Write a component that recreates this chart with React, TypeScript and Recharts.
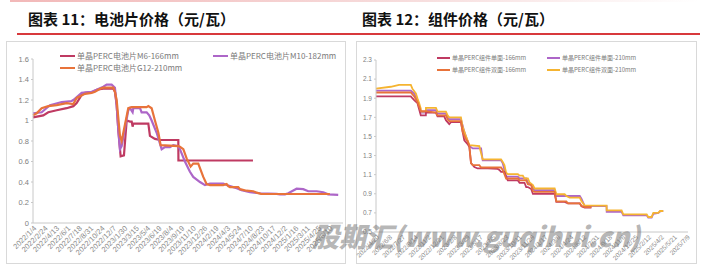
import { Line, LineChart, XAxis, YAxis } from "recharts";

type Pt = [number, number];

// 图表11 电池片价格 — x is position in units of axis label slots
const cellTicks = [
  "2022/1/4", "2022/2/24", "2022/4/13", "2022/6/1", "2022/7/18", "2022/8/31",
  "2022/10/24", "2022/12/7", "2023/1/30", "2023/3/15", "2023/5/4", "2023/6/19",
  "2023/8/4", "2023/9/19", "2023/11/10", "2023/12/26", "2024/2/19", "2024/4/3",
  "2024/5/24", "2024/7/10", "2024/8/23", "2024/10/17", "2024/12/2", "2025/1/16",
  "2025/3/11", "2025/4/25", "2025/6/10",
];

const m6Cell: Pt[] = [
  [0, 1.03], [0.9, 1.05], [1.34, 1.08], [2.08, 1.1], [2.95, 1.12], [3.54, 1.14],
  [3.83, 1.17], [4.27, 1.25], [4.56, 1.27], [5.29, 1.28], [5.58, 1.3], [6.17, 1.31],
  [7.05, 1.31], [7.19, 1.28], [7.34, 1.15], [7.49, 0.9], [7.69, 0.65], [7.98, 0.66],
  [8.22, 1.0], [8.51, 0.99], [8.66, 0.99], [8.74, 0.94], [8.8, 0.97], [10.12, 0.97],
  [10.26, 0.85], [10.7, 0.82], [11.14, 0.81], [12.75, 0.81], [12.76, 0.61], [19.3, 0.61],
];

const m10Cell: Pt[] = [
  [0, 1.07], [0.76, 1.08], [1.49, 1.15], [2.52, 1.18], [3.39, 1.19], [3.54, 1.2],
  [4.27, 1.27], [5.15, 1.28], [5.58, 1.3], [6.17, 1.33], [6.46, 1.35], [6.9, 1.35],
  [7.19, 1.32], [7.34, 1.15], [7.49, 0.9], [7.63, 0.72], [7.78, 0.75], [8.36, 1.1],
  [8.51, 1.12], [8.74, 1.08], [8.8, 1.12], [9.39, 1.12], [9.53, 1.08], [9.97, 1.08],
  [10.2, 1.05], [10.41, 1.0], [10.85, 0.88], [11.29, 0.72], [11.58, 0.74], [12.02, 0.74],
  [12.31, 0.76], [12.75, 0.75], [12.89, 0.72], [13.33, 0.6], [13.77, 0.5], [14.06, 0.45],
  [14.65, 0.4], [15.09, 0.37], [15.53, 0.385], [16.69, 0.385], [16.99, 0.37], [17.57, 0.35],
  [17.87, 0.34], [18.3, 0.32], [19.04, 0.3], [19.91, 0.29], [21.38, 0.285], [21.67, 0.28],
  [22.11, 0.28], [22.4, 0.29], [23.13, 0.335], [23.71, 0.33], [24.15, 0.31], [24.89, 0.31],
  [25.47, 0.3], [25.9, 0.28], [26.78, 0.275],
];

const g12Cell: Pt[] = [
  [0, 1.05], [0.32, 1.07], [0.76, 1.12], [1.34, 1.14], [2.08, 1.15], [2.95, 1.17],
  [3.54, 1.16], [3.83, 1.22], [4.56, 1.26], [5.15, 1.27], [5.44, 1.28], [5.88, 1.31],
  [6.17, 1.32], [7.05, 1.32], [7.19, 1.28], [7.34, 1.2], [7.63, 0.85], [7.78, 0.8],
  [8.36, 1.12], [8.66, 1.13], [9.97, 1.13], [10.12, 1.14], [10.41, 1.12], [10.7, 1.0],
  [11.0, 0.88], [11.2, 0.76], [12.75, 0.75], [12.89, 0.745], [13.19, 0.72], [13.48, 0.63],
  [13.83, 0.55], [14.06, 0.58], [14.5, 0.58], [14.94, 0.45], [15.23, 0.38], [15.53, 0.37],
  [16.69, 0.37], [16.99, 0.38], [17.13, 0.36], [17.28, 0.35], [18.01, 0.35], [18.16, 0.33],
  [18.74, 0.315], [19.33, 0.31], [19.62, 0.296], [20, 0.285], [26.05, 0.283],
];

// 图表12 组件价格
const moduleTicks = [
  "2022/4/20", "2022/6/8", "2022/7/27", "2022/9/14", "2022/11/2", "2022/12/21",
  "2023/2/8", "2023/3/29", "2023/5/17", "2023/7/5", "2023/8/23", "2023/10/11",
  "2023/11/29", "2024/1/17", "2024/3/6", "2024/4/24", "2024/6/12", "2024/7/31",
  "2024/9/18", "2024/11/6", "2024/12/25", "2025/2/12", "2025/4/2", "2025/5/21",
  "2025/7/9",
];

const mono166: Pt[] = [
  [0, 1.92], [2.69, 1.92], [2.81, 1.9], [2.95, 1.88], [3.2, 1.85], [3.46, 1.72],
  [3.85, 1.72], [3.86, 1.75], [4.63, 1.75], [4.75, 1.71], [5.27, 1.71], [5.4, 1.67],
  [5.66, 1.63], [5.79, 1.65], [6.56, 1.65], [6.69, 1.55], [6.82, 1.46], [7.08, 1.42],
  [7.21, 1.39], [7.34, 1.22], [7.6, 1.18], [7.85, 1.165], [8.63, 1.165], [9.4, 1.16],
  [9.53, 1.15], [9.66, 1.13], [9.92, 1.13], [10.05, 1.08], [10.18, 1.04], [10.96, 1.04],
  [11.09, 1.015], [11.47, 1.015], [11.6, 0.97], [11.73, 0.97], [11.99, 0.95], [12.12, 0.9],
  [13.8, 0.9], [13.93, 0.815], [14.57, 0.815], [14.83, 0.8], [15.74, 0.8], [15.87, 0.77],
  [16.12, 0.755], [16.64, 0.755],
];

const mono210: Pt[] = [
  [0, 1.98], [2.69, 1.98], [2.95, 1.95], [3.2, 1.88], [3.46, 1.75], [3.85, 1.75],
  [3.86, 1.776], [4.63, 1.776], [4.75, 1.74], [5.4, 1.74], [5.53, 1.7], [5.66, 1.68],
  [6.56, 1.68], [6.82, 1.55], [7.08, 1.45], [7.21, 1.4], [7.47, 1.375], [8.12, 1.375],
  [8.24, 1.25], [9.66, 1.25], [9.79, 1.22], [10.05, 1.08], [10.96, 1.08], [11.09, 1.06],
  [11.6, 1.06], [11.73, 1.02], [11.99, 0.99], [12.25, 0.937], [13.8, 0.937], [13.93, 0.877],
  [15.74, 0.877], [15.87, 0.85], [16.12, 0.77], [17.81, 0.77], [17.82, 0.71], [18.97, 0.71],
  [19.1, 0.675], [20.91, 0.675], [21.03, 0.65], [21.29, 0.65], [21.42, 0.69], [21.81, 0.7],
  [21.94, 0.715], [22.19, 0.72],
];

const bifacial166: Pt[] = [
  [0, 1.96], [2.69, 1.96], [2.95, 1.92], [3.2, 1.86], [3.46, 1.765], [3.85, 1.765],
  [4.63, 1.75], [4.75, 1.72], [5.4, 1.72], [5.53, 1.68], [5.66, 1.66], [6.56, 1.66],
  [6.69, 1.55], [6.95, 1.47], [7.08, 1.45], [7.21, 1.4], [7.34, 1.22], [7.47, 1.2],
  [7.98, 1.2], [8.12, 1.175], [9.66, 1.175], [9.79, 1.15], [10.05, 1.06], [10.96, 1.06],
  [11.09, 1.04], [11.6, 1.04], [11.73, 1.0], [11.99, 0.99], [12.12, 0.93], [12.25, 0.92],
  [13.8, 0.92], [13.93, 0.82], [14.7, 0.82], [14.83, 0.8], [15.74, 0.8], [15.87, 0.775],
  [16.12, 0.76], [16.64, 0.76],
];

const bifacial210: Pt[] = [
  [0, 2.0], [1.14, 2.02], [1.78, 2.04], [2.69, 2.04], [2.81, 2.0], [3.08, 1.95],
  [3.2, 1.9], [3.33, 1.85], [3.46, 1.79], [3.47, 1.76], [3.85, 1.76], [3.86, 1.8],
  [4.63, 1.8], [4.75, 1.76], [5.4, 1.76], [5.53, 1.72], [5.66, 1.7], [6.56, 1.7],
  [6.69, 1.6], [6.95, 1.5], [7.21, 1.41], [7.98, 1.4], [8.24, 1.26], [9.66, 1.26],
  [9.79, 1.234], [9.92, 1.2], [10.05, 1.12], [10.18, 1.105], [10.96, 1.105], [11.09, 1.09],
  [11.34, 1.09], [11.47, 1.06], [11.73, 1.06], [11.86, 1.02], [12.12, 0.99], [12.25, 0.955],
  [13.8, 0.955], [13.93, 0.895], [14.57, 0.895], [14.7, 0.877], [14.96, 0.86], [15.74, 0.86],
  [15.87, 0.825], [16.12, 0.776], [17.81, 0.776], [17.82, 0.727], [18.97, 0.727], [19.1, 0.685],
  [20.91, 0.685], [21.03, 0.657], [21.29, 0.657], [21.42, 0.7], [21.81, 0.7], [21.94, 0.72],
  [22.19, 0.72],
];

const cellYTicks = [0, 0.2, 0.4, 0.6, 0.8, 1, 1.2, 1.4, 1.6];
const moduleYTicks = [0.5, 0.7, 0.9, 1.1, 1.3, 1.5, 1.7, 1.9, 2.1, 2.3];

const C_M6 = "#bf3a62";
const C_M10 = "#ad66c8";
const C_G12 = "#e8733a";
const C_Y = "#f5b431";

const CJK = '"Noto Sans CJK SC", "Noto Sans", sans-serif';
const LAT = '"Liberation Sans", Arial, sans-serif';

const toRows = (pts: Pt[]) => pts.map(([x, y]) => ({ x, y }));

function SlantTick(props: any) {
  const { x, y, payload, labels, size } = props;
  return (
    <text
      x={x + 2}
      y={y}
      transform={`rotate(-45 ${x + 2} ${y})`}
      textAnchor="end"
      fontSize={size}
      fontFamily={LAT}
      fill="#8a8a8a"
      dy="0.35em"
    >
      {labels[payload.value] ?? ""}
    </text>
  );
}

type LegendItem = { name: string; color: string };

function LegendBlock({
  items, left, top, colGap, rowGap, lineW, fontSize,
}: {
  items: LegendItem[]; left: number; top: number; colGap: number;
  rowGap: number; lineW: number; fontSize: number;
}) {
  return (
    <>
      {items.map((it, i) => (
        <div
          key={it.name}
          style={{
            position: "absolute",
            left: left + (i % 2) * colGap,
            top: top + Math.floor(i / 2) * rowGap,
            display: "flex",
            alignItems: "center",
            whiteSpace: "nowrap",
            fontFamily: CJK,
            fontSize,
            color: "#7a7a7a",
            lineHeight: 1,
          }}
        >
          <span style={{ width: lineW, height: 2, background: it.color, marginRight: 2 }} />
          {it.name}
        </div>
      ))}
    </>
  );
}

export default function App() {
  return (
    <div style={{ position: "absolute", left: 0, top: 0, width: 712, height: 266, background: "#fff", overflow: "hidden" }}>
      <div style={{ position: "absolute", left: 10, top: 0, width: 690, height: 2, background: "linear-gradient(90deg,#f2b8b8,#f7dede 60%,#fff)" }} />
      <div style={{ position: "absolute", left: 28, top: 8, fontFamily: CJK, fontWeight: 700, fontSize: 15, color: "#111", whiteSpace: "nowrap" }}>
        图表 11：电池片价格（元/瓦）
      </div>
      <div style={{ position: "absolute", left: 362, top: 8, fontFamily: CJK, fontWeight: 700, fontSize: 15, color: "#111", whiteSpace: "nowrap" }}>
        图表 12：组件价格（元/瓦）
      </div>
      <div style={{ position: "absolute", left: 17, top: 33, width: 683, height: 2, background: "#d8393c" }} />

      <div style={{ position: "absolute", left: 6, top: 41, width: 338, height: 221, border: "1px solid #d9d9d9" }} />
      <div style={{ position: "absolute", left: 356, top: 41, width: 339, height: 221, border: "1px solid #d9d9d9" }} />

      <div style={{ position: "absolute", left: 0, top: 40 }}>
        <LineChart width={350} height={226} margin={{ top: 19, right: 7, left: 5, bottom: 0 }}>
          <XAxis
            type="number"
            dataKey="x"
            domain={[0, 27.2]}
            ticks={cellTicks.map((_, i) => i)}
            interval={0}
            height={43}
            tickLine={false}
            tickSize={2}
            axisLine={{ stroke: "#c8c8c8" }}
            tick={<SlantTick labels={cellTicks} size={7.5} />}
          />
          <YAxis
            type="number"
            domain={[0, 1.6]}
            ticks={cellYTicks}
            width={28}
            tickSize={2}
            tickLine={{ stroke: "#c8c8c8" }}
            axisLine={{ stroke: "#c8c8c8" }}
            tick={{ fontSize: 7.5, fill: "#808080", fontFamily: LAT }}
            tickFormatter={(v) => String(v)}
          />
          <Line data={toRows(m6Cell)} dataKey="y" name="单晶PERC电池片M6-166mm" stroke={C_M6} strokeWidth={2.2} dot={false} isAnimationActive={false} />
          <Line data={toRows(m10Cell)} dataKey="y" name="单晶PERC电池片M10-182mm" stroke={C_M10} strokeWidth={2.2} dot={false} isAnimationActive={false} />
          <Line data={toRows(g12Cell)} dataKey="y" name="单晶PERC电池片G12-210mm" stroke={C_G12} strokeWidth={2.2} dot={false} isAnimationActive={false} />
        </LineChart>
      </div>

      <div style={{ position: "absolute", left: 355, top: 40 }}>
        <LineChart width={345} height={226} margin={{ top: 20, right: 12, left: 4, bottom: 0 }}>
          <XAxis
            type="number"
            dataKey="x"
            domain={[0, 24.1]}
            ticks={moduleTicks.map((_, i) => i)}
            interval={0}
            height={34}
            tickLine={false}
            tickSize={2}
            axisLine={{ stroke: "#c8c8c8" }}
            tick={<SlantTick labels={moduleTicks} size={6.5} />}
          />
          <YAxis
            type="number"
            domain={[0.5, 2.3]}
            ticks={moduleYTicks}
            width={17}
            tickSize={2}
            tickLine={{ stroke: "#c8c8c8" }}
            axisLine={{ stroke: "#c8c8c8" }}
            tick={{ fontSize: 6.5, fill: "#808080", fontFamily: LAT }}
            tickFormatter={(v) => String(v)}
          />
          <Line data={toRows(mono210)} dataKey="y" name="单晶PERC组件单面-210mm" stroke={C_M10} strokeWidth={1.8} dot={false} isAnimationActive={false} />
          <Line data={toRows(bifacial210)} dataKey="y" name="单晶PERC组件双面-210mm" stroke={C_Y} strokeWidth={1.8} dot={false} isAnimationActive={false} />
          <Line data={toRows(mono166)} dataKey="y" name="单晶PERC组件单面-166mm" stroke={C_M6} strokeWidth={1.8} dot={false} isAnimationActive={false} />
          <Line data={toRows(bifacial166)} dataKey="y" name="单晶PERC组件双面-166mm" stroke={C_G12} strokeWidth={1.8} dot={false} isAnimationActive={false} />
        </LineChart>
      </div>

      <LegendBlock
        items={[
          { name: "单晶PERC电池片M6-166mm", color: C_M6 },
          { name: "单晶PERC电池片M10-182mm", color: C_M10 },
          { name: "单晶PERC电池片G12-210mm", color: C_G12 },
        ]}
        left={60}
        top={52}
        colGap={153}
        rowGap={11.5}
        lineW={15}
        fontSize={8}
      />
      <LegendBlock
        items={[
          { name: "单晶PERC组件单面-166mm", color: C_M6 },
          { name: "单晶PERC组件单面-210mm", color: C_M10 },
          { name: "单晶PERC组件双面-166mm", color: C_G12 },
          { name: "单晶PERC组件双面-210mm", color: C_Y },
        ]}
        left={437}
        top={55}
        colGap={110}
        rowGap={12}
        lineW={13}
        fontSize={6}
      />

      <div
        style={{
          position: "absolute", left: 312, top: 216, fontFamily: CJK, fontWeight: 900,
          fontStyle: "italic", fontSize: 27, color: "rgba(120,120,120,0.55)", whiteSpace: "nowrap",
        }}
      >
        股期汇(www.guqihui.cn)
      </div>
    </div>
  );
}
